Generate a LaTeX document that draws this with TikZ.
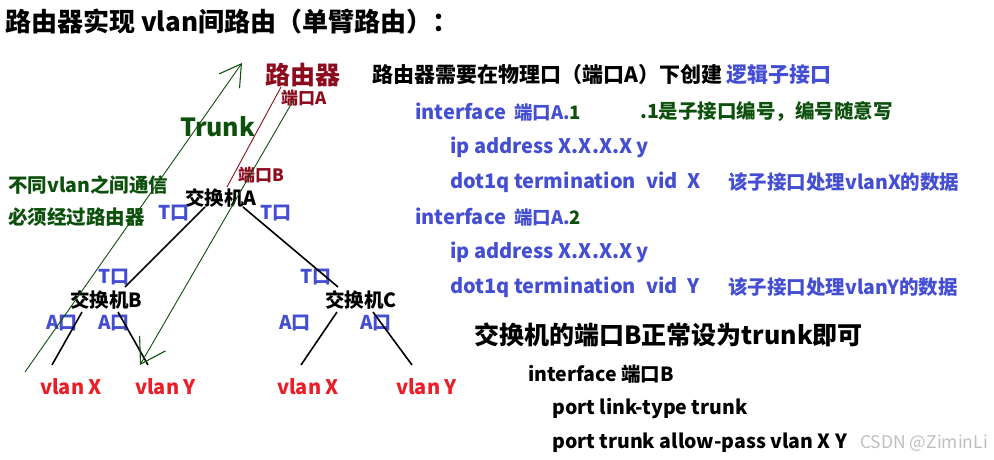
\documentclass[tikz,border=0pt]{standalone}
\usepackage{fontspec}
\setmainfont{Noto Sans CJK SC}
\usepackage{tikz}
\usetikzlibrary{arrows.meta, positioning}
\definecolor{cmdblue}{RGB}{68, 78, 210}
\definecolor{darkred}{RGB}{140, 12, 30}
\definecolor{darkgreen}{RGB}{12, 80, 12}
\definecolor{vlanred}{RGB}{235, 30, 40}
\definecolor{markgray}{RGB}{190, 190, 190}

\begin{document}
\begin{tikzpicture}[
  x=1pt, y=-1pt,
  txt/.style={anchor=west, inner sep=0pt, font=\bfseries\fontsize{#1}{#1}\selectfont},
  txt/.default=17,
  port/.style={txt=19, text=cmdblue},
  sw/.style={txt=19.5, text=black},
  vlan/.style={txt=20, text=vlanred},
  cmd/.style={txt=20, text=cmdblue},
  link/.style={line width=1.6pt, black},
  flow/.style={darkgreen, line width=0.9pt}
]
  \useasboundingbox (0,0) rectangle (994,460);

  % title
  \node[txt=26] (title) at (5,22) {路由器实现 vlan间路由（单臂路由）：};

  % left: router, switches, vlans
  \node[txt=25, text=darkred] (router) at (265,75) {路由器};
  \node[txt=17, text=darkred] (portA) at (281,98) {端口A};
  \node[txt=25, text=darkgreen] (trunk) at (180,127) {Trunk};
  \node[txt=17, text=darkred] (portB) at (238,175) {端口B};
  \node[txt=19.5, text=darkgreen] (note1) at (8,185) {不同vlan之间通信};
  \node[txt=19.5, text=darkgreen] (note2) at (8,217) {必须经过路由器};

  \node[sw] (swA) at (185,198) {交换机A};
  \node[port] (tAl) at (158,213) {T口};
  \node[port] (tAr) at (260,213) {T口};
  \node[port] (tB) at (98,277) {T口};
  \node[port] (tC) at (300,277) {T口};
  \node[sw] (swB) at (70,300) {交换机B};
  \node[sw] (swC) at (325,300) {交换机C};
  \node[port] (aB1) at (46,323) {A口};
  \node[port] (aB2) at (98,323) {A口};
  \node[port] (aC1) at (279,323) {A口};
  \node[port] (aC2) at (360,323) {A口};
  \node[vlan] (vBx) at (40,387) {vlan X};
  \node[vlan] (vBy) at (135,387) {vlan Y};
  \node[vlan] (vCx) at (277,387) {vlan X};
  \node[vlan] (vCy) at (396,387) {vlan Y};

  \coordinate (aL) at (205,207);
  \coordinate (aR) at (243,207);
  \coordinate (bT) at (125,287);
  \coordinate (cT) at (338,287);
  \coordinate (bL) at (82,312);
  \coordinate (bR) at (118,312);
  \coordinate (cL) at (337,312);
  \coordinate (cR) at (373,312);
  \coordinate (bx) at (52,365);
  \coordinate (by) at (148,365);
  \coordinate (cx) at (301,365);
  \coordinate (cy) at (412,365);

  \draw[link] (aL) -- (bT);
  \draw[link] (aR) -- (cT);
  \draw[link] (bL) -- (bx);
  \draw[link] (bR) -- (by);
  \draw[link] (cL) -- (cx);
  \draw[link] (cR) -- (cy);

  % trunk between switch A and router
  \coordinate (upFrom) at (25,372);
  \coordinate (upTo) at (242,63);
  \coordinate (downFrom) at (293,101);
  \coordinate (downTo) at (140,365);
  \coordinate (trunkLow) at (227,187);
  \coordinate (trunkHigh) at (281,87);
  \draw[darkred, line width=0.9pt] (trunkLow) -- (trunkHigh);
  \draw[flow, -{Straight Barb[length=21pt, width=25pt, line width=1.1pt]}] (upFrom) -- (upTo);
  \draw[flow, -{Straight Barb[length=24pt, width=30pt, line width=1.1pt]}] (downFrom) -- (downTo);

  % right: commands
  \node[txt=21] (head1) at (372,75) {路由器需要在物理口（端口A）下创建 \textcolor{cmdblue}{逻辑子接口}};
  \node[cmd] (if1) at (415,112) {interface\hspace{8pt}{\bfseries\fontsize{18.5}{18.5}\selectfont 端口A.\textcolor{darkgreen}{1}}};
  \node[txt=19.5, text=darkgreen] (if1note) at (640,112) {.1是子接口编号，编号随意写};
  \node[cmd] (ip1) at (450,147) {ip address X.X.X.X y};
  \node[cmd] (vid1) at (450,182) {dot1q termination\hspace{10pt}vid\hspace{10pt}X};
  \node[txt=19.5, text=cmdblue] (vid1note) at (728,182) {该子接口处理vlanX的数据};
  \node[cmd] (if2) at (415,217) {interface\hspace{8pt}{\bfseries\fontsize{18.5}{18.5}\selectfont 端口A.\textcolor{darkgreen}{2}}};
  \node[cmd] (ip2) at (450,252) {ip address X.X.X.X y};
  \node[cmd] (vid2) at (450,287) {dot1q termination\hspace{10pt}vid\hspace{10pt}Y};
  \node[txt=19.5, text=cmdblue] (vid2note) at (728,287) {该子接口处理vlanY的数据};

  \node[txt=25] (head2) at (474,335) {交换机的端口B正常设为trunk即可};
  \node[txt=19.5] (ifB) at (528,374) {interface 端口B};
  \node[txt=19.5] (linkType) at (552,409) {port link-type trunk};
  \node[txt=19.5] (allowPass) at (552,443) {port trunk allow-pass vlan X Y};
  \node[anchor=west, inner sep=0pt, text=markgray, font=\fontsize{17.5}{17.5}\selectfont] (mark) at (860,443) {CSDN @ZiminLi};
\end{tikzpicture}
\end{document}
